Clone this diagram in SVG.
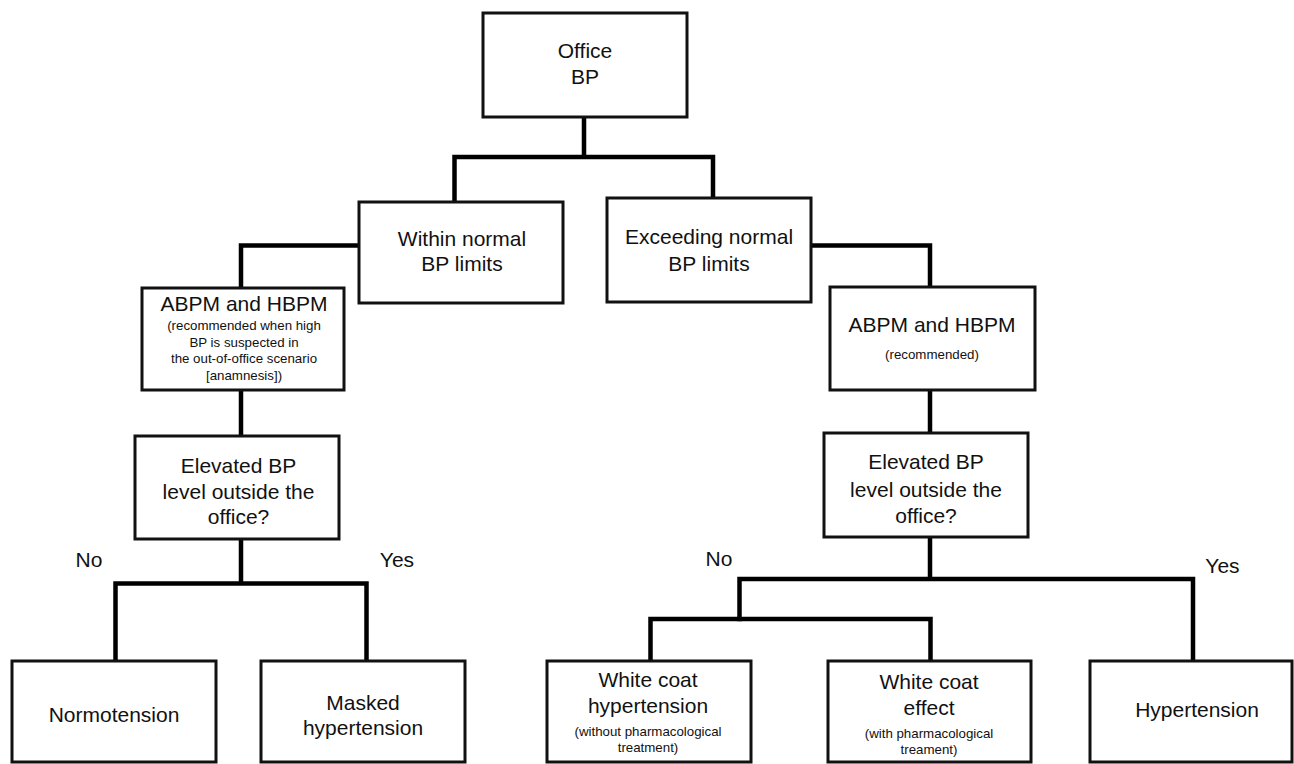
<svg xmlns="http://www.w3.org/2000/svg" width="1294" height="764" viewBox="0 0 1294 764">
<style>
.box{fill:#fff;stroke:#111;stroke-width:3}
.t{font-family:"Liberation Sans",Arial,sans-serif;font-size:21px;fill:#111;text-anchor:middle}
.s{font-family:"Liberation Sans",Arial,sans-serif;font-size:13.3px;fill:#111;text-anchor:middle}
.c{fill:none;stroke:#000;stroke-width:4.5;stroke-linecap:square}
</style>
<rect width="1294" height="764" fill="#fff"/>
<g id="connectors">
<path class="c" d="M584 118 V157 M454.5 202 V157 H713 V198"/>
<path class="c" d="M359 245.5 H241 V288"/>
<path class="c" d="M241 390 V436"/>
<path class="c" d="M241 539 V583.5 M115.5 661 V583.5 H366.5 V661"/>
<path class="c" d="M811 245.5 H930 V287"/>
<path class="c" d="M930 390 V433"/>
<path class="c" d="M930 537 V579 M739.5 619 V579 H1193 V661"/>
<path class="c" d="M650.5 661 V619 H930.5 V661"/>
</g>
<g id="office">
<rect class="box" x="483" y="13" width="204" height="104"/>
<text class="t" x="585" y="58">Office</text>
<text class="t" x="585" y="84">BP</text>
</g>
<g id="within">
<rect class="box" x="359" y="202" width="204" height="101"/>
<text class="t" x="462" y="246">Within normal</text>
<text class="t" x="462" y="271">BP limits</text>
</g>
<g id="exceeding">
<rect class="box" x="607" y="198" width="204" height="104"/>
<text class="t" x="709" y="244">Exceeding normal</text>
<text class="t" x="709" y="271">BP limits</text>
</g>
<g id="abpm-left">
<rect class="box" x="142" y="288" width="202" height="102"/>
<text class="t" x="244" y="311">ABPM and HBPM</text>
<text class="s" x="244" y="330">(recommended when high</text>
<text class="s" x="244" y="346.5">BP is suspected in</text>
<text class="s" x="244" y="363">the out-of-office scenario</text>
<text class="s" x="244" y="380">[anamnesis])</text>
</g>
<g id="abpm-right">
<rect class="box" x="830" y="287" width="205" height="103"/>
<text class="t" x="932" y="332">ABPM and HBPM</text>
<text class="s" x="932" y="359">(recommended)</text>
</g>
<g id="elevated-left">
<rect class="box" x="135" y="436" width="204" height="103"/>
<text class="t" x="238.5" y="473">Elevated BP</text>
<text class="t" x="238.5" y="498.5">level outside the</text>
<text class="t" x="238.5" y="524">office?</text>
</g>
<g id="elevated-right">
<rect class="box" x="824" y="433" width="204" height="104"/>
<text class="t" x="926" y="469">Elevated BP</text>
<text class="t" x="926" y="496.5">level outside the</text>
<text class="t" x="926" y="523">office?</text>
</g>
<g id="labels">
<text class="t" x="89" y="567">No</text>
<text class="t" x="397" y="567">Yes</text>
<text class="t" x="719" y="566">No</text>
<text class="t" x="1222.5" y="573">Yes</text>
</g>
<g id="normotension">
<rect class="box" x="12" y="661" width="204" height="101"/>
<text class="t" x="114" y="722">Normotension</text>
</g>
<g id="masked">
<rect class="box" x="261" y="661" width="204" height="101"/>
<text class="t" x="363" y="710">Masked</text>
<text class="t" x="363" y="735">hypertension</text>
</g>
<g id="wch">
<rect class="box" x="547" y="661" width="204" height="101"/>
<text class="t" x="648" y="687">White coat</text>
<text class="t" x="648" y="713">hypertension</text>
<text class="s" x="648" y="736">(without pharmacological</text>
<text class="s" x="648" y="752">treatment)</text>
</g>
<g id="wce">
<rect class="box" x="828" y="661" width="203" height="101"/>
<text class="t" x="929" y="689">White coat</text>
<text class="t" x="929" y="715">effect</text>
<text class="s" x="929" y="738">(with pharmacological</text>
<text class="s" x="929" y="754">treament)</text>
</g>
<g id="hypertension">
<rect class="box" x="1090" y="661" width="202" height="101"/>
<text class="t" x="1197" y="717">Hypertension</text>
</g>
</svg>
